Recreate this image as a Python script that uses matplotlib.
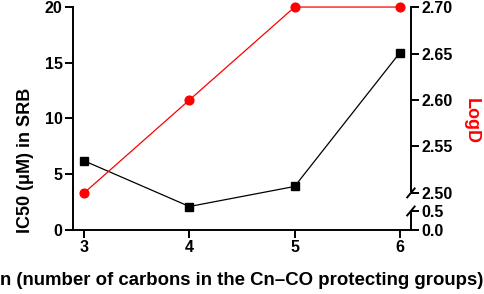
import numpy as np
import matplotlib
matplotlib.use("Agg")
import matplotlib.pyplot as plt
from matplotlib.scale import FuncScale

plt.rcParams['font.family'] = ['Liberation Sans', 'DejaVu Sans']
plt.rcParams['font.weight'] = 'bold'

# data
n_carbons = [3, 4, 5, 6]
ic50 = [6.2, 2.1, 3.9, 15.9]
logd = [2.50, 2.60, 2.70, 2.70]

left_ticks = [0, 5, 10, 15, 20]
right_ticks = [0.0, 0.5, 2.50, 2.55, 2.60, 2.65, 2.70]
right_labels = ['0.0', '0.5', '2.50', '2.55', '2.60', '2.65', '2.70']

# broken right axis: 0-0.5 low segment, 2.5-2.7 upper segment
brk_v = [0.0, 0.5, 2.5, 2.7]
brk_f = [0.0, 0.085, 0.166, 1.0]


def fwd(v):
    return np.interp(v, brk_v, brk_f)


def inv(f):
    return np.interp(f, brk_f, brk_v)


fig = plt.figure(figsize=(4.84, 2.94), dpi=100)
ax = fig.add_axes([0.151, 0.218, 0.698, 0.758])
ax2 = ax.twinx()

ax.plot(n_carbons, ic50, color='black', lw=0.9, marker='s', ms=6, zorder=3)
ax2.plot(n_carbons, logd, color='#ff0000', lw=0.9, marker='o', ms=6.3,
         clip_on=False, zorder=3)

ax.set_xlim(2.895, 6.105)
ax.set_ylim(0, 20)
ax.set_xticks(n_carbons)
ax.set_yticks(left_ticks)

ax2.set_yscale(FuncScale(ax2, (fwd, inv)))
ax2.set_ylim(0, 2.7)
ax2.set_yticks(right_ticks)
ax2.set_yticklabels(right_labels)

for a in (ax, ax2):
    a.spines['top'].set_visible(False)
    for s in a.spines.values():
        s.set_linewidth(1.4)
    a.tick_params(width=1.4, length=5.5, labelsize=11.5, pad=2)
ax.spines['right'].set_visible(False)
ax2.spines['left'].set_visible(False)
ax2.spines['bottom'].set_visible(False)
ax2.spines['right'].set_visible(False)

# right spine drawn in two pieces with break slashes
lo_top = fwd(0.5)
hi_bot = fwd(2.5)
kw = dict(transform=ax2.transAxes, color='black', lw=1.4, clip_on=False)
ax2.plot([1, 1], [0, lo_top - 0.01], **kw)
ax2.plot([1, 1], [hi_bot + 0.01, 1], **kw)
d = 0.011
ax2.plot([1 - d, 1 + d], [lo_top - 0.02, lo_top + 0.02], **kw)
ax2.plot([1 - d, 1 + d], [hi_bot - 0.02, hi_bot + 0.02], **kw)

ax.set_xlabel('n (number of carbons in the Cn\u2013CO protecting groups)',
              fontsize=13.4, fontweight='bold', labelpad=12)
ax.set_ylabel('IC50 (\u03bcM) in SRB', fontsize=13, fontweight='bold')
ax.yaxis.set_label_coords(-0.115, 0.31)
ax2.set_ylabel('LogD', fontsize=13, fontweight='bold', color='#ff0000',
               rotation=270)
ax2.yaxis.set_label_coords(1.204, 0.49)

fig.savefig('out.png', dpi=100)
